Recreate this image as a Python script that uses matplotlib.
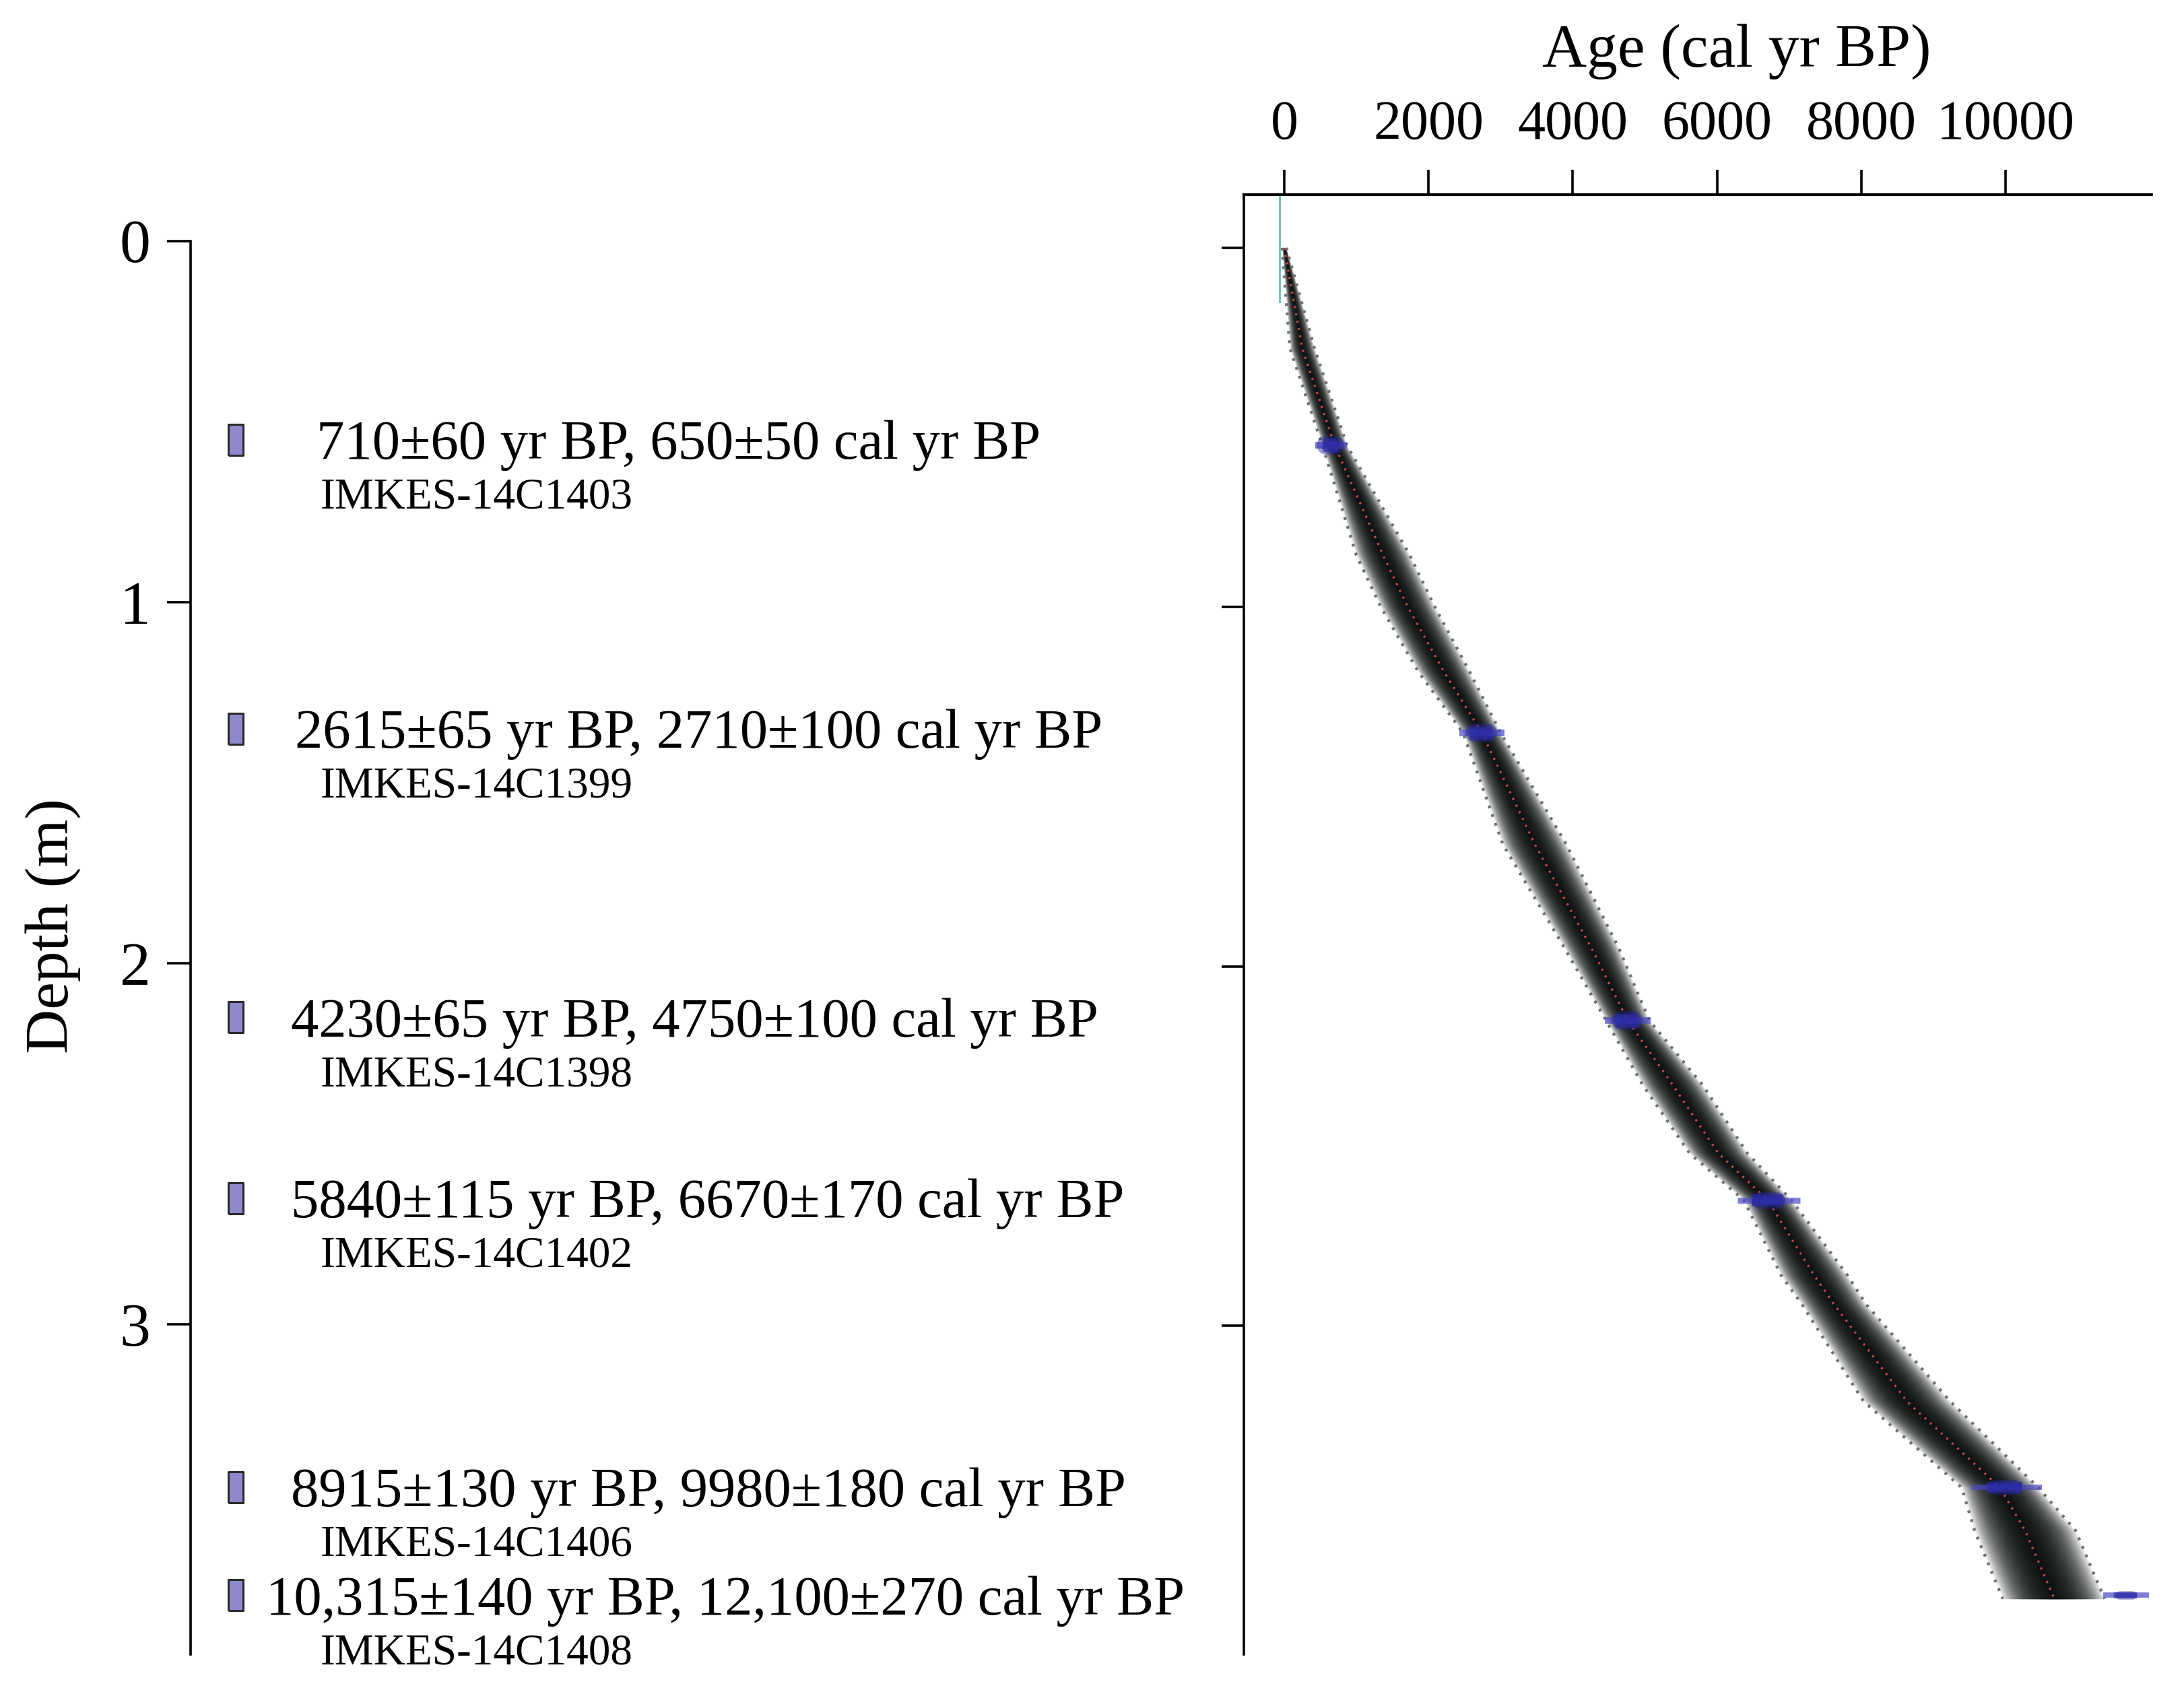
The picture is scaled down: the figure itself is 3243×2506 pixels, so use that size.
import numpy as np
import matplotlib.pyplot as plt
from matplotlib import transforms

plt.rcParams["font.family"] = ["Liberation Serif", "DejaVu Serif"]

# dated samples (depth in m)
sample_depth = [0.55, 1.35, 2.15, 2.65, 3.45, 3.75]
date_text = [
    "710\u00b160 yr BP, 650\u00b150 cal yr BP",
    "2615\u00b165 yr BP, 2710\u00b1100 cal yr BP",
    "4230\u00b165 yr BP, 4750\u00b1100 cal yr BP",
    "5840\u00b1115 yr BP, 6670\u00b1170 cal yr BP",
    "8915\u00b1130 yr BP, 9980\u00b1180 cal yr BP",
    "10,315\u00b1140 yr BP, 12,100\u00b1270 cal yr BP",
]
lab_code = [
    "IMKES-14C1403",
    "IMKES-14C1399",
    "IMKES-14C1398",
    "IMKES-14C1402",
    "IMKES-14C1406",
    "IMKES-14C1408",
]
# calibrated date blobs as they sit on the age axis
cal_center = [650, 2740, 4760, 6720, 10010, 11670]
cal_halfwidth = [220, 310, 320, 435, 490, 320]
cal_thick = [1.0, 1.0, 1.0, 0.9, 0.8, 0.45]

# age-depth model (cal yr BP)
model_depth = [0.0, 0.28, 0.55, 0.855, 1.0, 1.18, 1.35, 1.66, 1.95, 2.15,
               2.33, 2.52, 2.65, 2.86, 2.94, 3.21, 3.45, 3.57, 3.76]
model_mean = [0, 250, 700, 1370, 1715, 2215, 2740, 3474, 4262, 4760,
              5386, 6017, 6700, 7347, 7620, 8630, 9920, 10270, 10675]
model_lo95 = [-30, 80, 530, 1000, 1340, 1860, 2480, 3030, 3890, 4460,
              4970, 5620, 6370, 6890, 7175, 8030, 9390, 9570, 9960]
model_hi95 = [30, 420, 870, 1740, 2090, 2570, 3000, 3910, 4640, 5060,
              5800, 6420, 7030, 7810, 8065, 9230, 10450, 10970, 11370]

depth_ticks = [0, 1, 2, 3]
age_ticks = [0, 2000, 4000, 6000, 8000, 10000]

# label x positions (figure fraction)
text_x = [0.1448, 0.1352, 0.1333, 0.1333, 0.1333, 0.1218]
code_x = 0.1467
box_x = 0.1078

fig = plt.figure(figsize=(32.43, 25.06), dpi=100)

# ---- left panel: depth scale + date labels
axl = fig.add_axes([0.0874, 0.0198, 0.47, 0.8375])
axl.set_ylim(3.914, 0)
axl.set_xlim(0, 1)
for s in ["top", "right", "bottom"]:
    axl.spines[s].set_visible(False)
axl.spines["left"].set_linewidth(2.6)
axl.set_xticks([])
axl.set_yticks(depth_ticks)
axl.set_yticklabels([str(t) for t in depth_ticks])
axl.tick_params(axis="y", length=25, width=2.6, pad=18, labelsize=66)
axl.patch.set_alpha(0)

trans = transforms.blended_transform_factory(fig.transFigure, axl.transData)
box = [(-0.23, -0.5), (0.23, -0.5), (0.23, 0.5), (-0.23, 0.5), (-0.23, -0.5)]
for i, d in enumerate(sample_depth):
    axl.plot([box_x], [d], marker=box, ms=33, mfc="#8d89cc", mec="#2a2a2a",
             mew=2.2, transform=trans, clip_on=False, ls="none")
    axl.text(text_x[i], d, date_text[i], transform=trans, fontsize=59.5,
             va="center_baseline", ha="left", clip_on=False)
    axl.text(code_x, d + 0.147, lab_code[i], transform=trans, fontsize=47,
             va="center_baseline", ha="left", clip_on=False)

fig.text(0.0242, 0.4513, "Depth (m)", rotation=90, fontsize=66,
         ha="center", va="center")

# ---- right panel: age-depth model
ax = fig.add_axes([0.5695, 0.0198, 0.4158, 0.8647])
ax.set_xlim(-560, 12027)
ax.set_ylim(3.915, -0.147)
for s in ["right", "bottom"]:
    ax.spines[s].set_visible(False)
ax.spines["left"].set_linewidth(2.6)
ax.spines["top"].set_linewidth(3.0)
ax.xaxis.tick_top()
ax.set_xticks(age_ticks)
ax.set_xticklabels([str(t) for t in age_ticks])
ax.tick_params(axis="x", length=27, width=2.6, pad=20, labelsize=59)
ax.set_yticks(depth_ticks)
ax.set_yticklabels([])
ax.tick_params(axis="y", length=24, width=2.6)

dep = np.array(model_depth)
mean = np.array(model_mean)
lo = np.array(model_lo95)
hi = np.array(model_hi95)

# grey-scale probability band, darker towards the mean
for f in np.linspace(1.0, 0.04, 34):
    ax.fill_betweenx(dep, mean - f * (mean - lo), mean + f * (hi - mean),
                     color="#050808", alpha=0.08, lw=0)

ax.plot(lo, dep, color="#707070", lw=3.2, ls=(0, (0.9, 2.2)))
ax.plot(hi, dep, color="#707070", lw=3.2, ls=(0, (0.9, 2.2)))
ax.plot(mean, dep, color="#c84848", lw=2.4, ls=(0, (0.9, 2.4)))

# calibrated dates, drawn as soft blue spindles
c = np.array(cal_center)
w = np.array(cal_halfwidth)
t = np.array(cal_thick)
for k in range(len(c)):
    d = sample_depth[k]
    ax.plot([c[k] - w[k], c[k] + w[k]], [d, d], color="#4848c4",
            lw=7 * max(t[k], 0.8), alpha=0.7, solid_capstyle="butt")
    ax.plot([c[k] - 0.55 * w[k], c[k] + 0.45 * w[k]], [d, d],
            color="#3030b4", lw=14 * t[k], alpha=0.7, solid_capstyle="butt")
    ax.plot([c[k] - 0.3 * w[k], c[k] + 0.25 * w[k]], [d, d],
            color="#26269e", lw=20 * t[k], alpha=0.45, solid_capstyle="round")

# core-top marker
ax.plot([-60, -60], [-0.147, 0.15], color="#74c4c4", lw=2.2)

fig.text(0.7953, 0.9695, "Age (cal yr BP)", fontsize=66, ha="center",
         va="center")

fig.savefig("out.png", dpi=100, facecolor="white")
